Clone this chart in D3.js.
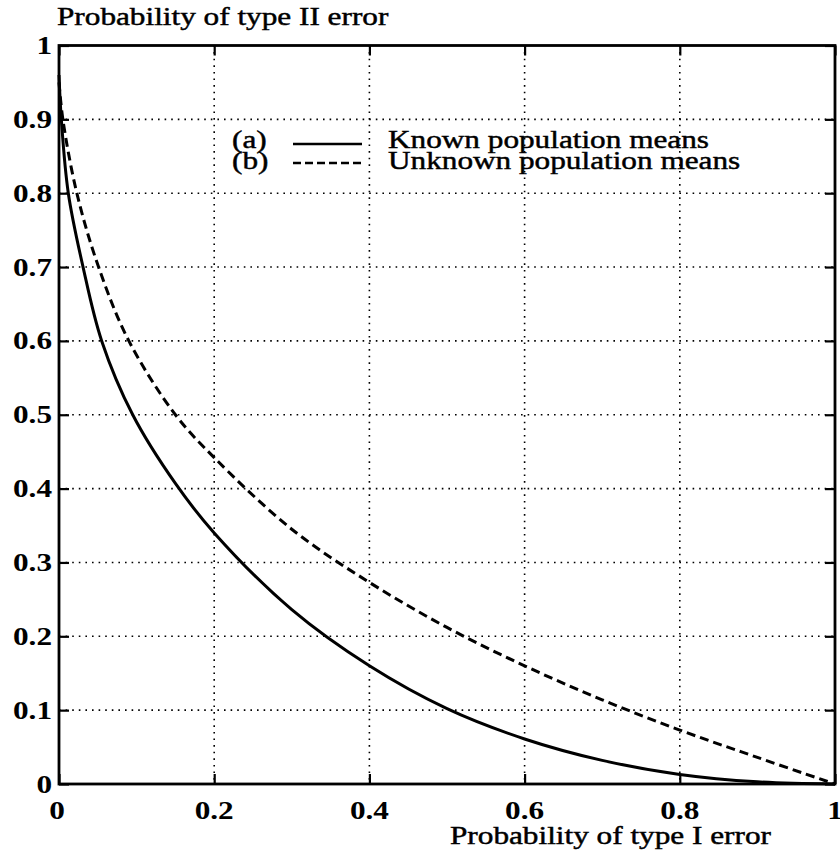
<!DOCTYPE html>
<html>
<head>
<meta charset="utf-8">
<script src="https://cdn.jsdelivr.net/npm/d3@7"></script>
<style>
  body { margin: 0; background: #fff; }
  svg { display: block; }
</style>
</head>
<body>
<div id="chartDIV"></div>
<script>
// (a) known population means
var knownX = [0, 0.003, 0.012, 0.031, 0.055, 0.095, 0.15, 0.2, 0.3, 0.4, 0.5, 0.6, 0.7, 0.8, 0.9, 1];
var knownY = [0.96, 0.9, 0.8, 0.7, 0.6, 0.5, 0.407, 0.34, 0.236, 0.16, 0.102, 0.061, 0.032, 0.013, 0.003, 0];
// (b) unknown population means
var unknownX = [0, 0.005, 0.023, 0.051, 0.09, 0.15, 0.2, 0.3, 0.4, 0.5, 0.6, 0.7, 0.8, 0.9, 1];
var unknownY = [0.95, 0.9, 0.8, 0.7, 0.6, 0.5, 0.442, 0.345, 0.273, 0.212, 0.16, 0.114, 0.073, 0.036, 0];

var xTicks = [0, 0.2, 0.4, 0.6, 0.8, 1];
var yTicks = [0, 0.1, 0.2, 0.3, 0.4, 0.5, 0.6, 0.7, 0.8, 0.9, 1];
var legendKeys = ["(a)", "(b)"];
var legendNames = ["Known population means", "Unknown population means"];
var xTitle = "Probability of type I error";
var yTitle = "Probability of type II error";

var width = 840, height = 864;
var plotLeft = 59, plotRight = 835, plotTop = 45.5, plotBottom = 784;
var stretch = 1.25; // the scanned lettering is wider than plain Times

var x = d3.scaleLinear().domain([0, 1]).range([plotLeft, plotRight]);
var y = d3.scaleLinear().domain([0, 1]).range([plotBottom, plotTop]);

var svg = d3.select("#chartDIV")
  .append("svg")
  .attr("width", width)
  .attr("height", height);

function label(txt, px, py, anchor, bold, size) {
  return svg.append("text")
    .attr("transform", "translate(" + px + "," + py + ") scale(" + stretch + ",1)")
    .attr("text-anchor", anchor)
    .style("font-family", "'Liberation Serif', 'DejaVu Serif', serif")
    .style("font-size", (size || 25) + "px")
    .style("font-weight", bold ? "bold" : "normal")
    .style("fill", "#000")
    .style("stroke", bold ? "none" : "#000")
    .style("stroke-width", 0.45)
    .text(txt);
}

// dotted grid
svg.append("g").selectAll("line")
  .data(xTicks.slice(1, -1))
  .enter().append("line")
  .attr("x1", function(d) { return x(d) }).attr("x2", function(d) { return x(d) })
  .attr("y1", plotTop).attr("y2", plotBottom)
  .style("stroke", "#000").style("stroke-width", 1.6)
  .style("stroke-dasharray", "1.6,5");
svg.append("g").selectAll("line")
  .data(yTicks.slice(1, -1))
  .enter().append("line")
  .attr("y1", function(d) { return y(d) }).attr("y2", function(d) { return y(d) })
  .attr("x1", plotLeft).attr("x2", plotRight)
  .style("stroke", "#000").style("stroke-width", 1.6)
  .style("stroke-dasharray", "1.6,5");

// inward ticks on all four sides
var tickLen = 10;
var axes = [
  d3.axisBottom(x).tickValues(xTicks).tickSize(-tickLen).tickFormat(""),
  d3.axisTop(x).tickValues(xTicks).tickSize(-tickLen).tickFormat(""),
  d3.axisLeft(y).tickValues(yTicks).tickSize(-tickLen).tickFormat(""),
  d3.axisRight(y).tickValues(yTicks).tickSize(-tickLen).tickFormat("")
];
var shifts = ["0," + plotBottom, "0," + plotTop, plotLeft + ",0", plotRight + ",0"];
axes.forEach(function(a, i) {
  var g = svg.append("g").attr("transform", "translate(" + shifts[i] + ")").call(a);
  g.select(".domain").remove();
  g.selectAll("line").style("stroke", "#000").style("stroke-width", 2.2);
});

// frame
svg.append("rect")
  .attr("x", plotLeft).attr("y", plotTop)
  .attr("width", plotRight - plotLeft).attr("height", plotBottom - plotTop)
  .style("fill", "none").style("stroke", "#000").style("stroke-width", 2.8);

// curves
var line = d3.line()
  .x(function(d) { return x(d[0]) })
  .y(function(d) { return y(d[1]) })
  .curve(d3.curveCatmullRom.alpha(0.5));

svg.append("path")
  .datum(d3.zip(knownX, knownY))
  .attr("d", line)
  .style("fill", "none").style("stroke", "#000").style("stroke-width", 3);
svg.append("path")
  .datum(d3.zip(unknownX, unknownY))
  .attr("d", line)
  .style("fill", "none").style("stroke", "#000").style("stroke-width", 3)
  .style("stroke-dasharray", "9,5");

// tick labels
yTicks.forEach(function(d) {
  label(d3.format("")(d), plotLeft - 7, y(d) + 8.5, "end", true);
});
xTicks.forEach(function(d) {
  label(d3.format("")(d), x(d) - (d == 0 ? 2 : 0), 819, "middle", true);
});

// axis titles
label(yTitle, 57, 25, "start", false);
label(xTitle, 450, 844, "start", false);

// legend
var rowY = [148, 169];
legendKeys.forEach(function(k, i) {
  label(k, 232, rowY[i], "start", false);
  label(legendNames[i], 388, rowY[i], "start", false);
  svg.append("line")
    .attr("x1", 293).attr("x2", 362)
    .attr("y1", rowY[i] - 4 - i * 2).attr("y2", rowY[i] - 4 - i * 2)
    .style("stroke", "#000").style("stroke-width", 2.6)
    .style("stroke-dasharray", i == 0 ? null : "8,4");
});
</script>
</body>
</html>
